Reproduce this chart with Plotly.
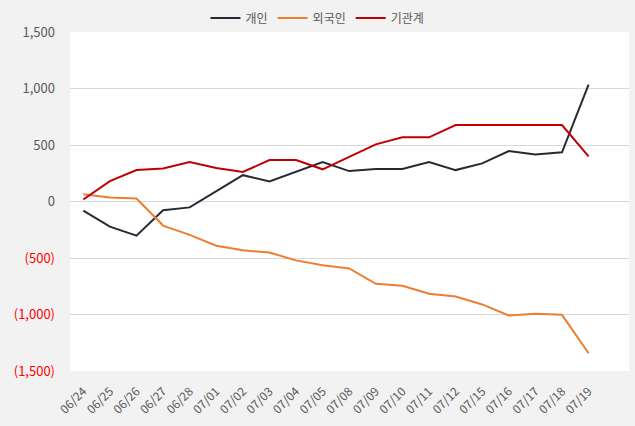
import plotly.graph_objects as go

dates = ["06/24", "06/25", "06/26", "06/27", "06/28", "07/01", "07/02", "07/03", "07/04", "07/05",
         "07/08", "07/09", "07/10", "07/11", "07/12", "07/15", "07/16", "07/17", "07/18", "07/19"]
individual = [-80, -222, -302, -77, -52, 94, 233, 178, 263, 350,
              269, 287, 287, 349, 278, 337, 446, 417, 435, 1035]
foreign = [65, 35, 27, -213, -295, -391, -432, -452, -521, -565,
           -592, -728, -745, -816, -840, -911, -1009, -994, -1003, -1343]
institution = [18, 180, 278, 293, 350, 297, 261, 367, 367, 285,
               395, 506, 568, 568, 677, 677, 677, 677, 677, 399]

series_names = ["개인", "외국인", "기관계"]
colors = ["#262a35", "#ed7d31", "#c00000"]

ytick_vals = [1500, 1000, 500, 0, -500, -1000, -1500]
ytick_text = ["1,500", "1,000", "500", "0",
              '<span style="color:#ff0000">(500)</span>',
              '<span style="color:#ff0000">(1,000)</span>',
              '<span style="color:#ff0000">(1,500)</span>']

fig = go.Figure()
for name, vals, col in zip(series_names, [individual, foreign, institution], colors):
    fig.add_trace(go.Scatter(x=dates, y=vals, mode="lines", name=name,
                             line=dict(color=col, width=2)))

font_family = "Noto Sans CJK KR, Noto Sans, sans-serif"
fig.update_layout(
    width=635, height=426,
    margin=dict(l=70, r=6, t=32, b=55, autoexpand=False),
    paper_bgcolor="#f2f2f2",
    plot_bgcolor="#ffffff",
    font=dict(family=font_family, size=12, color="#595959"),
    showlegend=True,
    legend=dict(orientation="h", xref="container", x=0.5, xanchor="center",
                yref="container", y=0.958, yanchor="middle",
                font=dict(size=12, color="#595959"), itemwidth=30,
                bgcolor="rgba(0,0,0,0)"),
    xaxis=dict(type="category", range=[-0.5, 20.52], tickangle=-45,
               showgrid=False, zeroline=False, showline=False, automargin=False,
               tickfont=dict(size=12, color="#595959"), ticklabelstandoff=10),
    yaxis=dict(range=[-1500, 1500], tickvals=ytick_vals, ticktext=ytick_text,
               showgrid=True, gridcolor="#d9d9d9", gridwidth=1,
               zeroline=False, showline=False, automargin=False,
               tickfont=dict(size=13, color="#595959"), ticklabelstandoff=14),
)
fig.write_html("out.html", config={"displayModeBar": False},
               post_script="document.body.style.margin='0';document.body.style.background='#f2f2f2';")
